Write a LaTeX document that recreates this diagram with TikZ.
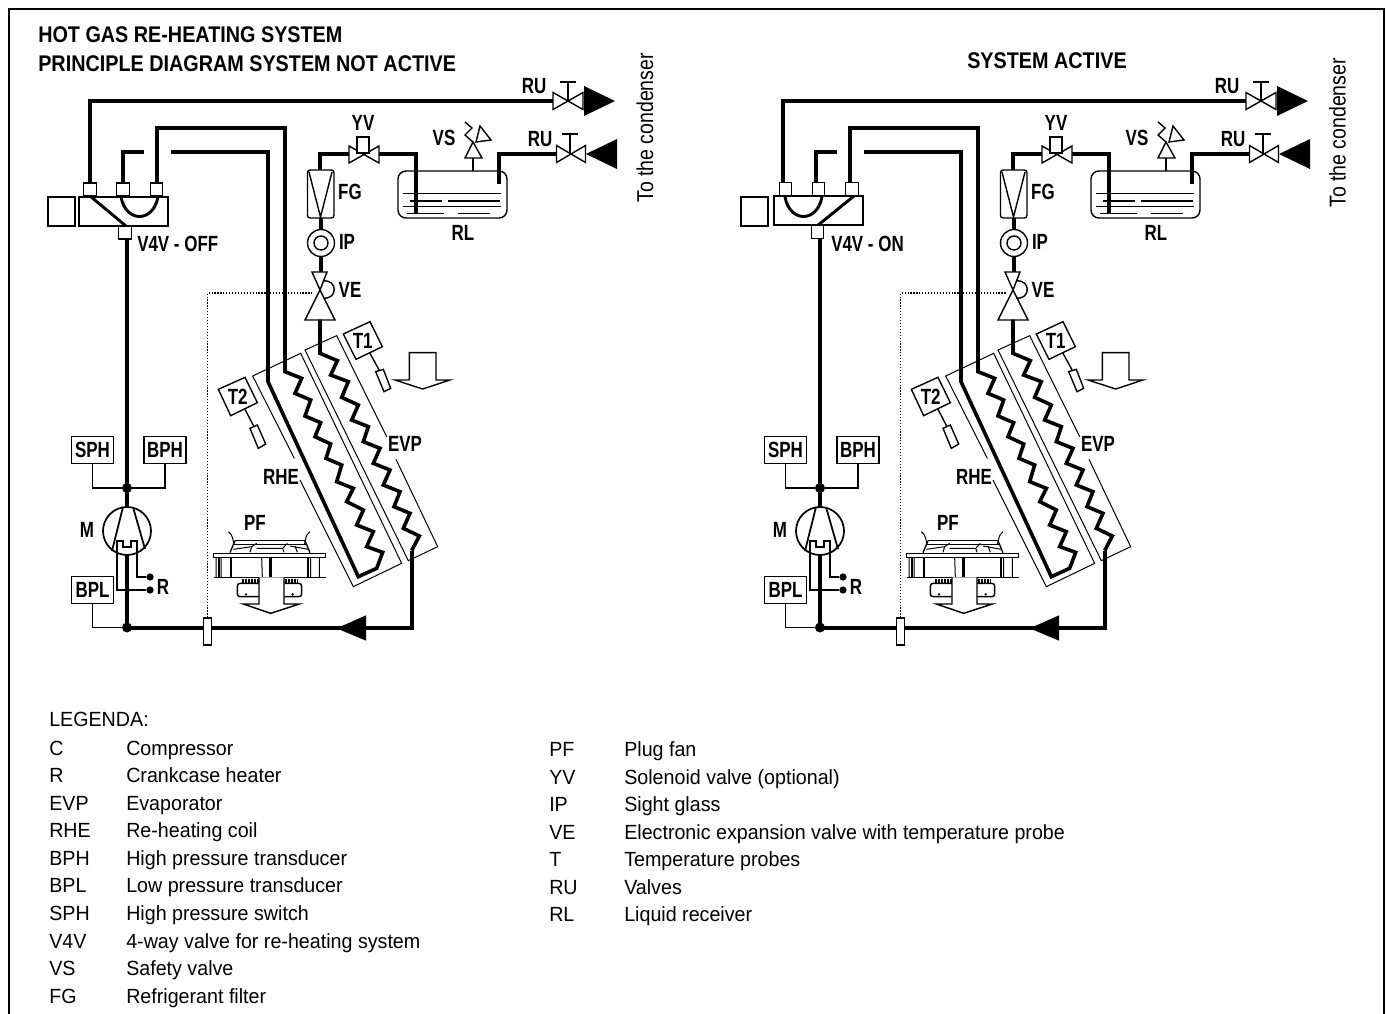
\documentclass[tikz,border=0pt]{standalone}
\usepackage{fontspec}
\setmainfont{Liberation Sans}
\newfontfamily\labf[FakeStretch=0.77]{Liberation Sans}
\newfontfamily\ttlf[FakeStretch=0.873]{Liberation Sans}
\newfontfamily\legf[FakeStretch=0.958]{Liberation Sans}
\newfontfamily\condf[FakeStretch=0.85]{Liberation Sans}
\tikzset{
  x=0.75pt,y=-0.75pt,
  pipe/.style={line width=3pt,line join=miter},
  coilpipe/.style={line width=2.7pt,line join=miter},
  thin1/.style={line width=1.05pt},
  fine/.style={line width=0.75pt},
  lbl/.style={font=\labf\fontsize{16.5}{16.5}\selectfont\bfseries,inner sep=0pt,anchor=base,yshift=-0.6pt},
  ttl/.style={font=\ttlf\fontsize{17}{17}\selectfont\bfseries,inner sep=0pt,anchor=base west},
  leg/.style={font=\legf\fontsize{15.4}{15.4}\selectfont,inner sep=0pt,anchor=base west},
  tagbox/.style={draw,thin1,fill=white,minimum width=31.5pt,minimum height=20pt,inner sep=0pt,font=\labf\fontsize{16.5}{16.5}\selectfont\bfseries},
  portbox/.style={draw,thin1,fill=white,minimum width=9.4pt,minimum height=9.6pt,inner sep=0pt},
  junction/.style={circle,fill=black,inner sep=0pt,minimum size=7.5pt},
  smalldot/.style={circle,fill=black,inner sep=0pt,minimum size=5.5pt},
  cz/.style={shift={(200,320)},x=.25pt,y=-.25pt},
  fz/.style={shift={(60,420)},x=.25pt,y=-.25pt},
}
\newcommand{\bowvalve}[4]{% x y halfw halfh
  \draw[thin1,fill=white] (#1-#3,#2-#4) -- (#1+#3,#2+#4) -- (#1+#3,#2-#4) -- (#1-#3,#2+#4) -- cycle;}
\newcommand{\hotgas}[4]{% prefix, shift, condenser text x, condenser text y
\begin{scope}[shift={(#2,0)}]
 % refrigerant pipes
 \draw[pipe] (90,183) -- (90,101) -- (555,101);
 \draw[pipe] (144,152) -- (123,152) -- (123,183);
 \draw[pipe] (320,170) -- (320,153.5) -- (349,153.5);
 \draw[pipe] (321,218) -- (321,230);
 \draw[pipe] (321,256) -- (321,273);
 % receiver
 \draw[thin1,rounded corners=6pt] (398,171) rectangle (507,218);
 \draw[pipe] (379,153.5) -- (416,153.5) -- (416,214);
 \draw[pipe] (499,184) -- (499,154) -- (556,154);
 \foreach \ya/\xa/\xb in {193.5/403/501,201/410/442,201/448/500,206.5/403/501,213.5/407/444,213.5/458/490}
   \draw[line width=1.1pt] (\xa,\ya) -- (\xb,\ya);
 % safety valve
 \draw[thin1] (473,171) -- (473,158);
 \draw[thin1,fill=white] (465,158) -- (482,158) -- (473,142) -- cycle;
 \draw[thin1] (473,142) -- (465,135) -- (472,128) -- (465,122);
 \draw[thin1] (480,126) -- (491,140) -- (476,142) -- cycle;
 % top RU valve
 \bowvalve{568}{101}{15}{8.5}
 \draw[thin1] (568,101) -- (568,82) (560,82) -- (576,82);
 \fill (584,86) -- (615,101) -- (584,116) -- cycle;
 % lower RU valve
 \bowvalve{571}{154}{14.5}{8.5}
 \draw[thin1] (570,154) -- (570,134) (562,134) -- (578,134);
 \fill (586,154) -- (617,139) -- (617,169) -- cycle;
 % solenoid valve
 \bowvalve{364}{154.5}{15}{8.5}
 \draw[thin1,fill=white] (357,137) rectangle (369,153);
 % filter
 \draw[thin1,rounded corners=2pt] (307.5,170) rectangle (334,218);
 \draw[thin1] (309,172) -- (320.5,217) -- (332,172);
 % sight glass
 \draw[thin1,fill=white] (321,243) circle[radius=13.5];
 \draw[thin1] (321,243) circle[radius=7];
 % expansion valve
 \draw[thin1,fill=white] (312,272) -- (327,272) -- (320,290) -- cycle;
 \draw[thin1,fill=white] (320,290) -- (305,320) -- (335,320) -- cycle;
 \draw[thin1] (323,281) .. controls (338,279) and (338,300) .. (323,298);
 % coil panels and pipes
 \begin{scope}[cz]
  \draw[fine] (300,480) -- (460,800) -- (605,730) -- (302,100) -- (158,168) -- (283,415);
  \draw[fine] (588,418) -- (713,680) -- (625,722) -- (315,90) -- (410,47) -- (560,350);
  \draw[coilpipe] (-129,-414) -- (-129,-576) -- (255,-576) -- (255,155) -- (305,175) -- (285,220) -- (332,240) -- (315,288) -- (362,308) -- (345,350) -- (392,372) -- (378,415) -- (425,435) -- (410,485) -- (460,505) -- (440,545) -- (490,570) -- (470,615) -- (520,635) -- (500,680) -- (548,697) -- (530,745) -- (475,770) -- (204,185) -- (204,-504) -- (-87,-504);
  \draw[coilpipe] (360,-1) -- (360,100) -- (412,122) -- (392,165) -- (445,185) -- (425,232) -- (475,255) -- (455,300) -- (505,320) -- (490,365) -- (540,385) -- (520,430) -- (570,450) -- (550,495) -- (600,515) -- (582,560) -- (630,580) -- (610,625) -- (658,648) -- (635,692);
  \draw[pipe] (635,692) -- (635,925) -- (-219,925) -- (-219,-243);
  % probes
  \draw[thin1,fill=white] (430,42) -- (510,5) -- (547,80) -- (468,118) -- cycle;
  \draw[thin1] (510,100) -- (540,155);
  \draw[thin1,fill=white] (527,155) -- (550,148) -- (572,205) -- (552,215) -- cycle;
  \draw[thin1,fill=white] (55,208) -- (135,172) -- (172,248) -- (92,287) -- cycle;
  \draw[thin1] (135,268) -- (163,322);
  \draw[thin1,fill=white] (150,325) -- (172,315) -- (197,372) -- (175,385) -- cycle;
  % air arrow
  \draw[thin1] (628,180) -- (628,98) -- (708,98) -- (708,180) -- (750,180) -- (668,207) -- (585,180) -- (628,180);
  % flow arrow
  \fill (410,925) -- (498,886) -- (498,962) -- cycle;
 \end{scope}
 % plug fan
 \begin{scope}[fz]
  \draw[fine] (505,335) .. controls (520,345) and (518,362) .. (522,372);
  \draw[fine] (750,335) .. controls (735,345) and (738,362) .. (733,372);
  \draw[line width=1.1pt] (525,362) -- (735,362);
  \draw[fine] (522,372) -- (738,372);
  \draw[line width=1pt] (525,362) -- (510,398) (735,362) -- (750,398);
  \draw[fine] (520,388) -- (575,380) -- (590,370) (575,380) -- (570,397);
  \draw[fine] (590,385) -- (668,385) -- (682,370) (668,385) -- (672,397);
  \draw[fine] (690,378) -- (745,388) (705,378) -- (712,397);
  \draw[line width=1pt,fill=white] (460,400) rectangle (797,412);
  \draw[line width=1.1pt] (462,472) -- (797,472);
  \draw[fine] (468,412) -- (468,472) (483,412) -- (483,472) (605,412) -- (607,472) (752,412) -- (752,472) (778,412) -- (778,472);
  \draw[line width=1.3pt] (476,412) -- (476,472) (512,412) -- (512,472) (745,412) -- (745,472);
  \draw[line width=2pt] (632,412) -- (632,472);
  \draw[line width=2.8pt,dash pattern=on 1.5pt off .8pt] (545,482) -- (597,482) (675,482) -- (712,482);
  \draw[thin1,rounded corners=2pt] (597,490) -- (532,490) -- (532,530) -- (597,530);
  \draw[thin1,rounded corners=2pt] (672,490) -- (725,490) -- (725,530) -- (672,530);
  \fill (558,523) circle[radius=4] (698,523) circle[radius=4];
  \draw[line width=1.1pt,fill=white] (597,472) -- (597,552) -- (550,552) -- (632,580) -- (718,552) -- (672,552) -- (672,472);
 \end{scope}
 % dotted probe line and tube on the suction line
 \node[draw,thin1,fill=white,minimum width=6.3pt,minimum height=20pt,inner sep=0pt] (#1tube) at (207.5,631.5) {};
 \coordinate (#1vebulb) at (314,293);
 \draw[line width=.9pt,dash pattern=on .9pt off 1.3pt] (#1tube.north) |- (#1vebulb);
 % compressor
 \node[draw,circle,line width=1.3pt,fill=white,minimum size=36pt,inner sep=0pt] (#1comp) at (127,531) {};
 \draw[line width=1.3pt] (123,507) -- (112,551) (133,507) -- (145,549);
 \node[junction] (#1j1) at (127,488) {};
 \node[junction] (#1j2) at (127,627.5) {};
 \node[tagbox] (#1SPH) at (92.5,450) {SPH};
 \node[tagbox] (#1BPH) at (165,450) {BPH};
 \node[tagbox] (#1BPL) at (92.5,590) {BPL};
 \draw[thin1] (#1SPH.south) |- (#1j1);
 \draw[thin1] (#1BPH.south) |- (#1j1);
 \draw[thin1] (#1BPL.south) |- (#1j2);
 \node[smalldot] (#1r1) at (150,577) {};
 \node[smalldot] (#1r2) at (150,590) {};
 \draw[line width=1.1pt] (#1r2) -- (117,590) -- (117,541) -- (123,541) -- (123,547) -- (131,547) -- (131,541) -- (137,541) -- (137,577) -- (#1r1);
 % labels
 \node[lbl] (#1lbRUa) at (534,93) {RU};
 \node[lbl] (#1lbRUb) at (540,146) {RU};
 \node[lbl] (#1lbYV) at (363,130) {YV};
 \node[lbl] (#1lbVS) at (444,145) {VS};
 \node[lbl] (#1lbFG) at (350,199) {FG};
 \node[lbl] (#1lbRL) at (463,240) {RL};
 \node[lbl] (#1lbIP) at (347,249) {IP};
 \node[lbl] (#1lbVE) at (350,297) {VE};
 \node[lbl] (#1lbTa) at (362.7,348) {T1};
 \node[lbl] (#1lbTb) at (237.7,404) {T2};
 \node[lbl] (#1lbEVP) at (405,451) {EVP};
 \node[lbl] (#1lbRHE) at (281,484) {RHE};
 \node[lbl] (#1lbPF) at (255,530) {PF};
 \node[lbl] (#1lbM) at (87,537) {M};
 \node[lbl] (#1lbR) at (163,594) {R};
\end{scope}
 \node[rotate=90,inner sep=0pt,anchor=base west,font=\condf\fontsize{17.2}{17.2}\selectfont] (#1cond) at (#3,#4) {To the condenser};
}
\begin{document}
\begin{tikzpicture}
\useasboundingbox (0,0) rectangle (1386,1014);
\fill[white] (0,0) rectangle (1386,1014);
\draw[line width=1.5pt] (8.5,1014) -- (8.5,8.5) -- (1383.5,8.5) -- (1383.5,1014);
\node[ttl] (title1) at (38,42) {HOT GAS RE-HEATING SYSTEM};
\node[ttl] (title2) at (38,71) {PRINCIPLE DIAGRAM SYSTEM NOT ACTIVE};
\node[ttl,anchor=base] (title3) at (1047,68) {SYSTEM ACTIVE};
\hotgas{a}{0}{653}{203}
\hotgas{b}{693}{1345.5}{208}
% four-way valve, not active
\draw[thin1] (48,197) rectangle (75,226);
\draw[thin1,fill=white] (79,197) rectangle (168,226);
\draw[line width=2.2pt] (90,196) -- (126,226);
\draw[line width=2.2pt] (121,197) .. controls (126,223) and (153,223) .. (158,197);
\node[portbox] (aP1) at (90,189.5) {};
\node[portbox] (aP2) at (123,189.5) {};
\node[portbox] (aP3) at (156.5,189.5) {};
\node[portbox] (aP4) at (125,232.5) {};
\node[lbl,anchor=base west] (aV) at (137,251) {V4V - OFF};
% four-way valve, active
\draw[thin1] (741,197) rectangle (768,226);
\draw[thin1,fill=white] (774,196) rectangle (863,225);
\draw[line width=2.2pt] (854,196) -- (817,226);
\draw[line width=2.2pt] (785,197) .. controls (790,223) and (817,223) .. (822,197);
\node[portbox] (bP1) at (785.5,189) {};
\node[portbox] (bP2) at (818.5,189) {};
\node[portbox] (bP3) at (852,189) {};
\node[portbox] (bP4) at (817.5,232) {};
\node[lbl,anchor=base west] (bV) at (831,251) {V4V - ON};
% legend
\node[leg] (lg0) at (49,726.5) {LEGENDA:};
\foreach \n/\yy/\k/\t in {
 1/755/C/Compressor,2/782.5/R/Crankcase heater,3/810/EVP/Evaporator,4/837.5/RHE/Re-heating coil,
 5/865/BPH/High pressure transducer,6/892.5/BPL/Low pressure transducer,7/920.5/SPH/High pressure switch,
 8/948/V4V/4-way valve for re-heating system,9/975.5/VS/Safety valve,10/1003/FG/Refrigerant filter}{
 \node[leg] (lk\n) at (49,\yy) {\k};
 \node[leg] (lt\n) at (126,\yy) {\t};
}
\foreach \n/\yy/\k/\t in {
 1/756/PF/Plug fan,2/784/YV/Solenoid valve (optional),3/811/IP/Sight glass,
 4/839/VE/Electronic expansion valve with temperature probe,5/866/T/Temperature probes,
 6/894/RU/Valves,7/921/RL/Liquid receiver}{
 \node[leg] (rk\n) at (549,\yy) {\k};
 \node[leg] (rt\n) at (624,\yy) {\t};
}
\end{tikzpicture}
\end{document}
